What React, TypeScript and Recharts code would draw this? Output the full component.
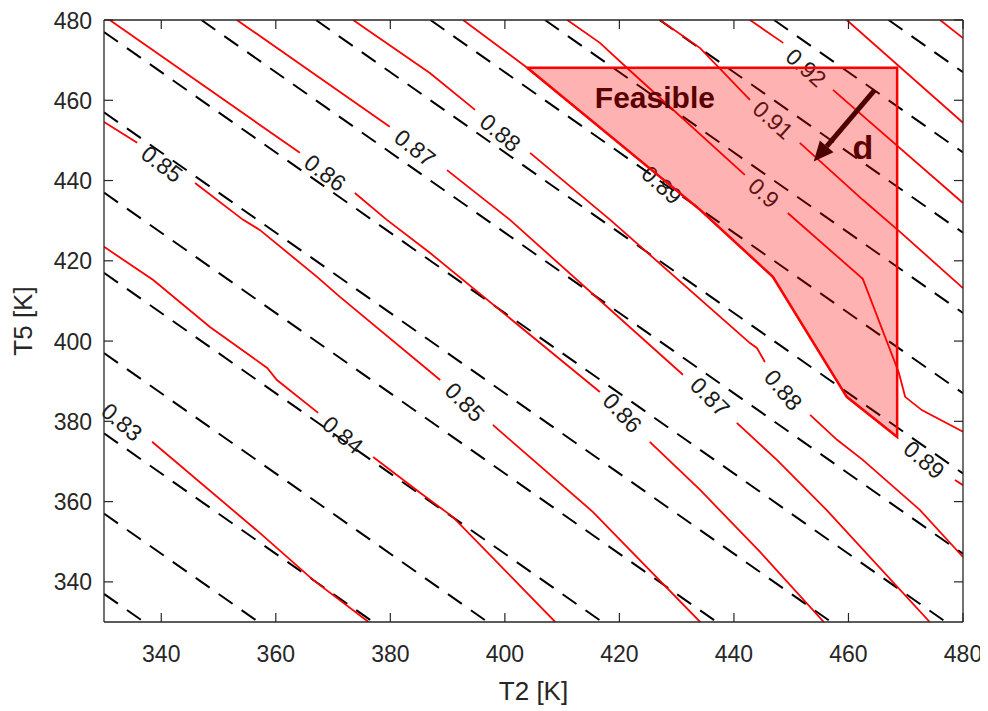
import { ComposedChart, XAxis, YAxis, Line, Area, ReferenceDot, Label } from 'recharts';

// axis ticks
const xTicks = [340, 360, 380, 400, 420, 440, 460, 480];
const yTicks = [340, 360, 380, 400, 420, 440, 460, 480];

// black dashed lines (T2 + T5 = const), endpoints
const dashedLines = [
    [[330, 337], [337, 330]],
    [[330, 357], [357, 330]],
    [[330, 377], [377, 330]],
    [[330, 397], [397, 330]],
    [[330, 417], [417, 330]],
    [[330, 437], [437, 330]],
    [[330, 457], [457, 330]],
    [[330, 477], [477, 330]],
    [[347, 480], [480, 347]],
    [[367, 480], [480, 367]],
    [[387, 480], [480, 387]],
    [[407, 480], [480, 407]],
    [[427, 480], [480, 427]],
    [[447, 480], [480, 447]],
    [[467, 480], [480, 467]],
];

// red contour lines, split where the labels sit
const c083 = [
    [[338.4, 374.9], [357.2, 352.2], [366.5, 340.5], [376.2, 330]],
];
const c084 = [
    [[330, 423.5], [338.6, 415.2], [348.5, 403.5], [358.5, 393.3], [360.2, 390.3], [367.4, 382.1]],
    [[377.0, 371.1], [385.2, 362.2], [390.9, 356.2], [408.8, 330]],
];
const c085 = [
    [[330, 454.6], [335.8, 449.4]],
    [[345.9, 439.4], [354.3, 430.2], [357.2, 427.7], [367.2, 416.0], [371.2, 411.0], [388.7, 390.3]],
    [[397.9, 379.1], [415.4, 357.4], [434.1, 330]],
];
const c086 = [
    [[331.0, 480], [364.2, 446.9]],
    [[373.8, 436.9], [379.4, 430.2], [386.9, 422.0], [416.6, 387.3]],
    [[425.3, 374.9], [434.1, 362.9], [444.6, 347.4], [455.7, 330]],
];
const c087 = [
    [[353.2, 480], [379.9, 453.4]],
    [[389.9, 442.6], [400.9, 430.2], [431.1, 391.6]],
    [[440.5, 379.6], [447.5, 370.4], [456.2, 357.9], [474.2, 330]],
];
const c088 = [
    [[373.5, 480], [386.9, 466.8], [394.8, 457.6]],
    [[404.4, 446.9], [418.4, 430.2], [442.8, 399.5], [444.0, 398.3], [445.4, 394.8]],
    [[453.3, 381.6], [458.0, 375.4], [462.5, 370.4], [472.5, 357.9], [480, 346.2]],
];
const c089 = [
    [[392.7, 480], [403.9, 468.1], [434.1, 432.7], [446.8, 416.0], [459.7, 386.1], [468.5, 376.1]],
    [[478.6, 365.4], [480, 364.1]],
];
const c090 = [
    [[410.9, 480], [416.6, 474.3], [421.3, 468.1], [441.9, 441.4]],
    [[449.4, 431.9], [462.5, 415.5], [468.8, 392.1], [469.9, 386.1], [472.8, 382.8], [480, 377.4]],
];
const c091 = [
    [[427.1, 480], [434.1, 473.0], [442.8, 460.1]],
    [[451.5, 449.4], [462.5, 435.2], [469.0, 427.2], [480, 413.2]],
];
const c092 = [
    [[442.8, 480], [448.6, 474.3]],
    [[457.3, 462.6], [480, 434.4]],
];
const c093 = [[[459.7, 480], [480, 454.4]]];
const c094 = [[[476.0, 480], [480, 475.5]]];

const contourLabels = [
    { text: '0.83', x: 333.1, y: 379.8, angle: 40 },
    { text: '0.84', x: 371.7, y: 376.6, angle: 40 },
    { text: '0.85', x: 340.1, y: 444.1, angle: 37 },
    { text: '0.85', x: 393.0, y: 384.8, angle: 45 },
    { text: '0.86', x: 368.6, y: 441.9, angle: 37 },
    { text: '0.86', x: 420.5, y: 382.1, angle: 47 },
    { text: '0.87', x: 384.3, y: 448.1, angle: 38 },
    { text: '0.87', x: 435.8, y: 386.1, angle: 45 },
    { text: '0.88', x: 399.2, y: 451.9, angle: 40 },
    { text: '0.88', x: 448.6, y: 387.8, angle: 50 },
    { text: '0.89', x: 427.4, y: 438.9, angle: 42 },
    { text: '0.89', x: 473.2, y: 370.4, angle: 40 },
    { text: '0.9', x: 445.2, y: 436.9, angle: 42 },
    { text: '0.91', x: 446.8, y: 455.1, angle: 42 },
    { text: '0.92', x: 452.6, y: 468.1, angle: 42 },
];

// feasible region: top edge, right edge, lower-left edge along the 0.89 contour
const feasibleTop = 468.1;
const feasibleX = [403.9, 434.1, 446.8, 459.7, 468.5];
const feasibleLow = [468.1, 432.7, 416.0, 386.1, 376.1];
const feasibleBorder = [[403.9, 468.1], [468.5, 468.1], [468.5, 376.1], [459.7, 386.1], [446.8, 416.0], [434.1, 432.7], [403.9, 468.1]];

// direction arrow "d" (start, base of head)
const arrowPts = [[464.6, 462.6], [456.2, 448.5]];

const axisColor = "#262626";
const font = "'Liberation Sans', Arial, Helvetica, sans-serif";
const red = "#ff0000";
const darkRed = "#4d0000";

const toPts = (seg: number[][]) => seg.map(([x, y]) => ({ x, y }));

const contours = [c083, c084, c085, c086, c087, c088, c089, c090, c091, c092, c093, c094];

const BottomTick = ({ x, y, payload }: any) => (
    <g>
        <line x1={x} y1={y} x2={x} y2={y - 9} stroke={axisColor} strokeWidth={1.2} />
        <text x={x} y={y + 40} textAnchor="middle" fontSize={23} fontFamily={font} fill={axisColor}>{payload.value}</text>
    </g>
);
const TopTick = ({ x, y }: any) => <line x1={x} y1={y} x2={x} y2={y + 9} stroke={axisColor} strokeWidth={1.2} />;
const LeftTick = ({ x, y, payload }: any) => (
    <g>
        <line x1={x} y1={y} x2={x + 9} y2={y} stroke={axisColor} strokeWidth={1.2} />
        <text x={x - 12} y={y + 8.5} textAnchor="end" fontSize={23} fontFamily={font} fill={axisColor}>{payload.value}</text>
    </g>
);
const RightTick = ({ x, y }: any) => <line x1={x} y1={y} x2={x - 9} y2={y} stroke={axisColor} strokeWidth={1.2} />;

export default function App() {
    const areaData = feasibleX.map((x, i) => ({ x, band: [feasibleLow[i], feasibleTop] }));
    const arrowData = toPts(arrowPts);

    return (
        <ComposedChart width={980} height={703} margin={{ top: 11, right: 24, bottom: 0, left: 0 }}>
            <XAxis xAxisId={0} type="number" dataKey="x" domain={[330, 480]} ticks={xTicks} allowDataOverflow
                height={89} tickSize={0} tickMargin={0} tick={(p: any) => <BottomTick {...p} />}
                axisLine={{ stroke: axisColor, strokeWidth: 1.3 }} tickLine={false}>
                <Label content={(p: any) => (
                    <text x={p.viewBox.x + p.viewBox.width / 2} y={p.viewBox.y + 78} textAnchor="middle"
                        fontSize={26} fontFamily={font} fill={axisColor}>T2 [K]</text>
                )} />
            </XAxis>
            <XAxis xAxisId="top" orientation="top" type="number" dataKey="x" domain={[330, 480]} ticks={xTicks} allowDataOverflow
                height={1} tickSize={0} tickMargin={0} tick={(p: any) => <TopTick {...p} />}
                axisLine={{ stroke: axisColor, strokeWidth: 1.3 }} tickLine={false} />
            <YAxis yAxisId={0} type="number" domain={[330, 480]} ticks={yTicks} allowDataOverflow
                width={96} tickSize={0} tickMargin={0} tick={(p: any) => <LeftTick {...p} />}
                axisLine={{ stroke: axisColor, strokeWidth: 1.3 }} tickLine={false}>
                <Label content={(p: any) => {
                    const cx = p.viewBox.x + 15;
                    const cy = p.viewBox.y + p.viewBox.height / 2;
                    return (
                        <text x={cx} y={cy} transform={`rotate(-90 ${cx} ${cy})`} textAnchor="middle" dominantBaseline="central"
                            fontSize={26} fontFamily={font} fill={axisColor}>T5 [K]</text>
                    );
                }} />
            </YAxis>
            <YAxis yAxisId="right" orientation="right" type="number" domain={[330, 480]} ticks={yTicks} allowDataOverflow
                width={1} tickSize={0} tickMargin={0} tick={(p: any) => <RightTick {...p} />}
                axisLine={{ stroke: axisColor, strokeWidth: 1.3 }} tickLine={false} />

            {dashedLines.map((seg, i) => (
                <Line key={`dash-${i}`} data={toPts(seg)} dataKey="y" type="linear" stroke="#000" strokeWidth={2}
                    strokeDasharray="17 11" dot={false} activeDot={false} isAnimationActive={false} />
            ))}

            {contours.map((c, ci) => c.map((seg, si) => (
                <Line key={`c-${ci}-${si}`} data={toPts(seg)} dataKey="y" type="linear" stroke={red} strokeWidth={1.8}
                    dot={false} activeDot={false} isAnimationActive={false} />
            )))}

            {contourLabels.map((l, i) => (
                <ReferenceDot key={`lbl-${i}`} x={l.x} y={l.y} zIndex={420}
                    shape={(p: any) => (
                        <text x={p.cx} y={p.cy} transform={`rotate(${l.angle} ${p.cx} ${p.cy})`} textAnchor="middle"
                            dominantBaseline="central" fontSize={23} fontFamily={font} fill="#1a1a1a">{l.text}</text>
                    )} />
            ))}

            <Area data={areaData} dataKey="band" type="linear" fill={red} fillOpacity={0.3} stroke="none"
                zIndex={450} isAnimationActive={false} activeDot={false} />
            <Line data={toPts(feasibleBorder)} dataKey="y" type="linear" stroke={red} strokeWidth={2.5} zIndex={460}
                dot={false} activeDot={false} isAnimationActive={false} />

            <ReferenceDot x={426.2} y={460.8} zIndex={480}
                shape={(p: any) => (
                    <text x={p.cx} y={p.cy} textAnchor="middle" dominantBaseline="central" fontSize={30}
                        fontWeight="bold" fontFamily={font} fill="#5a0000">Feasible</text>
                )} />
            <ReferenceDot x={462.5} y={448.4} zIndex={480}
                shape={(p: any) => (
                    <text x={p.cx} y={p.cy} textAnchor="middle" dominantBaseline="central" fontSize={34}
                        fontWeight="bold" fontFamily={font} fill="#5a0000">d</text>
                )} />
            <Line data={arrowData} dataKey="y" type="linear" stroke={darkRed} strokeWidth={5} zIndex={480}
                activeDot={false} isAnimationActive={false}
                dot={(p: any) => p.index === arrowData.length - 1
                    ? <polygon key={`ah-${p.index}`} points="20,0 0,-9 0,9" fill={darkRed}
                        transform={`translate(${p.cx} ${p.cy}) rotate(130.6)`} />
                    : <g key={`ah-${p.index}`} />} />
        </ComposedChart>
    );
}
